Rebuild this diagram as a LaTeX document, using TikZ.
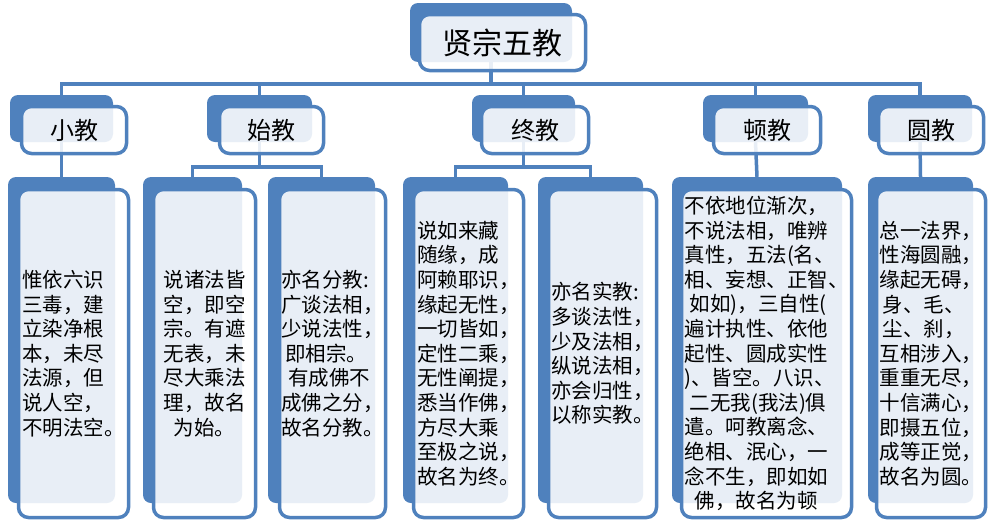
\documentclass[tikz,border=0pt]{standalone}
\usepackage{fontspec}
\newfontfamily\cjkf{Noto Sans CJK SC}
\usetikzlibrary{backgrounds}
\definecolor{boxblue}{RGB}{79,129,189}
\tikzset{
 backbox/.style={fill=boxblue, rounded corners=8pt, inner sep=0pt},
 frontbox/.style={draw=boxblue, line width=3.5pt, fill=white, fill opacity=0.87, text opacity=1, rounded corners=10pt, inner sep=0pt, align=left, text=black},
 conn/.style={draw=boxblue, line width=3.5pt},
 titlef/.style={font=\cjkf\fontsize{30}{34}\selectfont},
 headf/.style={font=\cjkf\fontsize{24}{28}\selectfont},
 leaff/.style={font=\cjkf\fontsize{20.5}{24.6}\selectfont},
}
\begin{document}
\begin{tikzpicture}[x=1pt,y=-1pt]
\useasboundingbox (0,0) rectangle (998,525);
% top
\node[backbox, minimum width=162pt, minimum height=59pt] (topB) at (491,32.5) {};
\node[frontbox, titlef, minimum width=166pt, minimum height=56pt] (top) at (502.5,42.5) {贤宗五教};
% level 2
\node[backbox, minimum width=103pt, minimum height=47pt] (xiaoB) at (61.5,118.5) {};
\node[frontbox, headf, minimum width=105pt, minimum height=47pt] (xiao) at (74,130) {小教};
\node[backbox, minimum width=105pt, minimum height=47pt] (shiB) at (259.5,118.5) {};
\node[frontbox, headf, minimum width=104pt, minimum height=47pt] (shi) at (271.5,130) {始教};
\node[backbox, minimum width=103pt, minimum height=47pt] (zhongB) at (523.5,118.5) {};
\node[frontbox, headf, minimum width=107pt, minimum height=47pt] (zhong) at (535,130) {终教};
\node[backbox, minimum width=105pt, minimum height=47pt] (dunB) at (755.5,118.5) {};
\node[frontbox, headf, minimum width=107pt, minimum height=47pt] (dun) at (767,130) {顿教};
\node[backbox, minimum width=104pt, minimum height=47pt] (yuanB) at (920,118.5) {};
\node[frontbox, headf, minimum width=105pt, minimum height=47pt] (yuan) at (931,130) {圆教};
% leaves
\node[backbox, minimum width=107pt, minimum height=326pt] (xiaoLB) at (61.5,340) {};
\node[frontbox, leaff, minimum width=110pt, minimum height=328pt] (xiaoL) at (73.5,353.5)
 {惟依六识\\三毒，建\\立染净根\\本，未尽\\法源，但\\说人空，\\不明法空。};
\node[backbox, minimum width=99pt, minimum height=326pt] (shiAB) at (192.5,340) {};
\node[frontbox, leaff, minimum width=102pt, minimum height=328pt] (shiA) at (204.5,353.5)
 {说诸法皆\\空，即空\\宗。有遮\\无表，未\\尽大乘法\\理，故名\\\hspace*{0.5em}为始。};
\node[backbox, minimum width=107pt, minimum height=326pt] (shiBB) at (321.5,340) {};
\node[frontbox, leaff, minimum width=106pt, minimum height=328pt] (shiBx) at (332.5,353.5)
 {亦名分教:\\广谈法相，\\少说法性，\\\hspace*{0.2em}即相宗。\\\hspace*{0.35em}有成佛不\\成佛之分，\\故名分教。};
\node[backbox, minimum width=105pt, minimum height=326pt] (zhongAB) at (455.5,340) {};
\node[frontbox, leaff, minimum width=110pt, minimum height=328pt] (zhongA) at (468.5,353.5)
 {说如来藏\\随缘，成\\阿赖耶识，\\缘起无性，\\一切皆如，\\定性二乘，\\无性阐提，\\悉当作佛，\\方尽大乘\\至极之说，\\故名为终。};
\node[backbox, minimum width=105pt, minimum height=326pt] (zhongBB) at (590.5,340) {};
\node[frontbox, leaff, minimum width=108pt, minimum height=328pt] (zhongBx) at (602.5,353.5)
 {亦名实教:\\多谈法性，\\少及法相，\\纵说法相，\\亦会归性，\\以称实教。};
\node[backbox, minimum width=170pt, minimum height=326pt] (dunLB) at (757,340) {};
\node[frontbox, leaff, minimum width=170pt, minimum height=328pt] (dunL) at (766.5,353.5)
 {不依地位渐次，\\不说法相，唯辨\\真性，五法(名、\\相、妄想、正智、\\\hspace*{0.25em}如如)，三自性(\\遍计执性、依他\\起性、圆成实性\\)、皆空。八识、\\\hspace*{0.25em}二无我(我法)俱\\遣。呵教离念、\\绝相、泯心，一\\念不生，即如如\\\hspace*{0.5em}佛，故名为顿};
\node[backbox, minimum width=105pt, minimum height=326pt] (yuanLB) at (920.5,340) {};
\node[frontbox, leaff, minimum width=109pt, minimum height=328pt] (yuanL) at (931,353.5)
 {总一法界，\\性海圆融，\\缘起无碍，\\\hspace*{0.15em}身、毛、\\\hspace*{0.15em}尘、刹，\\互相涉入，\\重重无尽，\\十信满心，\\即摄五位，\\成等正觉，\\故名为圆。};
% connectors
\begin{scope}[on background layer]
\coordinate (busA) at (0,84);
\coordinate (busB) at (0,167);
\draw[conn] (topB.south) -- (topB.south |- busA) -| (xiaoB.north);
\draw[conn] (topB.south) -- (topB.south |- busA) -| (shiB.north);
\draw[conn] (topB.south) -- (topB.south |- busA) -| (zhongB.north);
\draw[conn] (topB.south) -- (topB.south |- busA) -| (dunB.north);
\draw[conn] (topB.south) -- (topB.south |- busA) -| (yuanB.north);
\draw[conn] (xiaoB.south) -- (xiaoLB.north);
\draw[conn] (shiB.south) -- (shiB.south |- busB) -| (shiAB.north);
\draw[conn] (shiB.south) -- (shiB.south |- busB) -| (shiBB.north);
\draw[conn] (zhongB.south) -- (zhongB.south |- busB) -| (zhongAB.north);
\draw[conn] (zhongB.south) -- (zhongB.south |- busB) -| (zhongBB.north);
\draw[conn] (dunB.south) -- (dunLB.north);
\draw[conn] (yuanB.south) -- (yuanLB.north);
\end{scope}
\end{tikzpicture}
\end{document}
